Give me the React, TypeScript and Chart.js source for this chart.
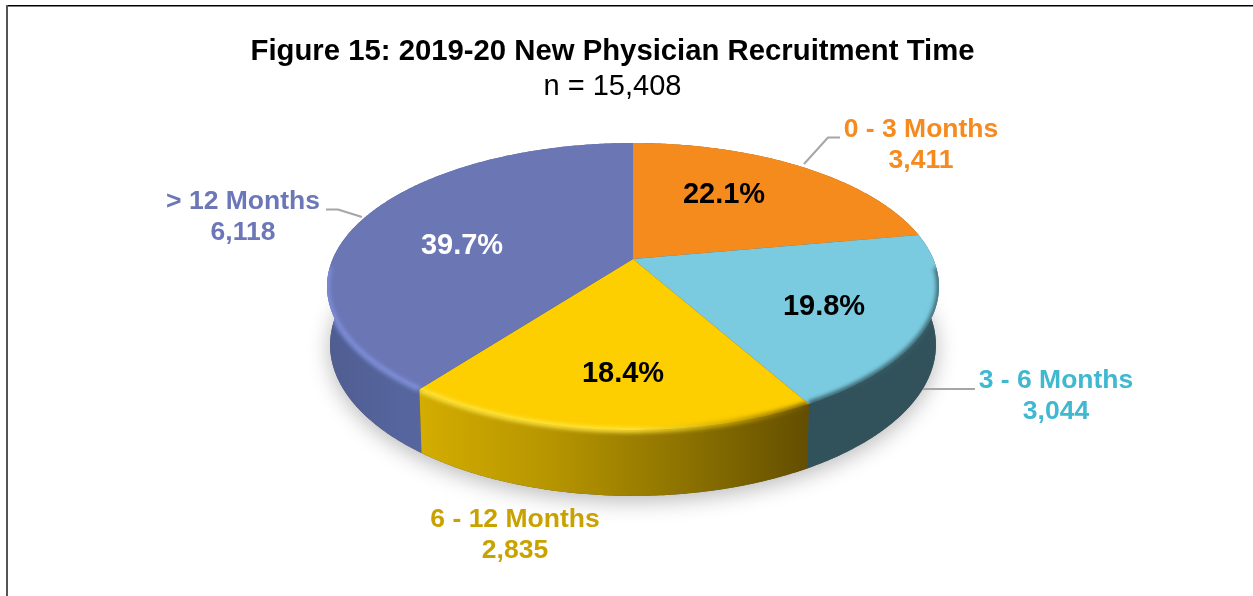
import React, { useEffect, useRef } from "react";
import { Chart, registerables } from "chart.js";

Chart.register(...registerables);

const titleText = "Figure 15: 2019-20 New Physician Recruitment Time";
const subtitleText = "n = 15,408";
const categories = ["0 - 3 Months", "3 - 6 Months", "6 - 12 Months", "> 12 Months"];
const recruits = [3411, 3044, 2835, 6118];
const sliceColors = ["#f48b1c", "#7bcbe0", "#fdce00", "#6b76b5"];
const labelColors = ["#f58a1f", "#3fb8d0", "#c9a200", "#6c77b8"];
const percentColors = ["#000000", "#000000", "#000000", "#ffffff"];

const FONT = '"Liberation Sans", Arial, sans-serif';

// view geometry of the tilted disc
const K = 0.1917;
const top = { cx: 633, cy: 259, a: 300.3, b: 138.2 };
const bottom = { cx: 633, cy: 316, a: 297.3, b: 145.4 };
const project = (g: typeof top, ang: number) => {
  const u = Math.cos(ang);
  const v = Math.sin(ang);
  const w = 1 - K * v;
  return [g.cx + (g.a * u) / w, g.cy + (g.b * v) / w];
};

const labelBoxes = [
  { x: 921, y: 130 },
  { x: 1056, y: 381 },
  { x: 515, y: 520 },
  { x: 243, y: 202 },
];
const percentBoxes = [
  { x: 724, y: 195 },
  { x: 824, y: 307 },
  { x: 623, y: 374 },
  { x: 462, y: 246 },
];
const leaders = [
  [[804, 164], [828, 137.5], [840, 137.5]],
  [[923, 389], [975, 389]],
  [],
  [[326, 209.5], [338, 209.5], [362, 217]],
];

const wallStops = [
  [[0, "#8a5a1c"], [1, "#8a5a1c"]],
  [[0, "#31525b"], [1, "#31525b"]],
  [[0, "#d4ad00"], [0.35, "#b59400"], [0.7, "#8a7000"], [1, "#634e00"]],
  [[0, "#4f5d92"], [0.25, "#56659d"], [1, "#5e6ca8"]],
];
const rimStops = [
  [[0, "#f48b1c"], [1, "#f48b1c"]],
  [[0, "#31525b"], [1, "#3a5f69"]],
  [[0, "#ffe53f"], [0.55, "#ffe53f"], [0.8, "#c9a500"], [1, "#6a5400"]],
  [[0, "#7f90dc"], [1, "#8293de"]],
];

const arcPath = (g: typeof top, from: number, to: number) => {
  const n = Math.max(2, Math.ceil(Math.abs(to - from) / 0.01));
  const pts: number[][] = [];
  for (let i = 0; i <= n; i++) pts.push(project(g, from + ((to - from) * i) / n));
  return pts;
};

const addPoly = (ctx: CanvasRenderingContext2D, pts: number[][], close = true) => {
  pts.forEach((p, i) => (i ? ctx.lineTo(p[0], p[1]) : ctx.moveTo(p[0], p[1])));
  if (close) ctx.closePath();
};
const trace = (ctx: CanvasRenderingContext2D, pts: number[][], close = true) => {
  ctx.beginPath();
  addPoly(ctx, pts, close);
};

const pie3d = {
  id: "pie3d",
  beforeDraw(chart: any) {
    const ctx: CanvasRenderingContext2D = chart.ctx;
    ctx.save();
    ctx.fillStyle = "#ffffff";
    ctx.fillRect(0, 0, chart.width, chart.height);
    ctx.fillStyle = "#000000";
    ctx.fillRect(7, 5, chart.width - 7, 1.5);
    ctx.fillStyle = "#555555";
    ctx.fillRect(6, 5, 2, chart.height - 5);
    ctx.restore();
  },
  beforeDatasetDraw(chart: any, args: any) {
    const ctx: CanvasRenderingContext2D = chart.ctx;
    const arcs = chart.getDatasetMeta(args.index).data;
    ctx.save();

    // soft ground shadow
    ctx.save();
    ctx.shadowColor = "rgba(0,0,0,0.28)";
    ctx.shadowBlur = 22;
    ctx.shadowOffsetY = 5;
    ctx.fillStyle = "#555555";
    trace(ctx, arcPath(bottom, 0, Math.PI * 2));
    ctx.fill();
    ctx.restore();

    // extruded walls
    [0, 3, 1, 2].forEach((i) => {
      const { startAngle: s, endAngle: e } = arcs[i];
      const upper = arcPath(top, s, e);
      const lower = arcPath(bottom, s, e).reverse();
      const xs = upper.map((p) => p[0]).concat(lower.map((p) => p[0]));
      const grad = ctx.createLinearGradient(Math.min(...xs), 0, Math.max(...xs), 0);
      wallStops[i].forEach(([o, c]) => grad.addColorStop(o as number, c as string));
      ctx.fillStyle = grad;
      trace(ctx, upper.concat(lower));
      ctx.fill();
    });

    // top faces
    arcs.forEach((arc: any, i: number) => {
      const pts = [[top.cx, top.cy], ...arcPath(top, arc.startAngle, arc.endAngle)];
      ctx.fillStyle = sliceColors[i];
      trace(ctx, pts);
      ctx.fill();
    });

    // bevel along the near rim, kept inside the solid's outline
    arcs.forEach((arc: any, i: number) => {
      const s = Math.max(arc.startAngle, 0.06);
      const e = Math.min(arc.endAngle, Math.PI - 0.06);
      if (e <= s) return;
      const rim = arcPath(top, s, e);
      const xs = rim.map((p) => p[0]);
      const grad = ctx.createLinearGradient(Math.min(...xs), 0, Math.max(...xs), 0);
      rimStops[i].forEach(([o, c]) => grad.addColorStop(o as number, c as string));
      ctx.save();
      ctx.beginPath();
      addPoly(ctx, [[top.cx, top.cy], ...arcPath(top, arc.startAngle, arc.endAngle)]);
      addPoly(ctx, [
        ...arcPath(top, arc.startAngle, arc.endAngle),
        ...arcPath(bottom, arc.startAngle, arc.endAngle).reverse(),
      ]);
      ctx.clip();
      ctx.filter = "blur(2px)";
      ctx.strokeStyle = grad;
      ctx.lineWidth = 5;
      trace(ctx, rim, false);
      ctx.stroke();
      ctx.restore();
    });
    ctx.restore();
    return false;
  },
  afterDatasetsDraw(chart: any) {
    const ctx: CanvasRenderingContext2D = chart.ctx;
    const total = recruits.reduce((a, b) => a + b, 0);
    ctx.save();
    ctx.textAlign = "center";
    ctx.textBaseline = "middle";
    ctx.lineJoin = "round";
    categories.forEach((name, i) => {
      if (leaders[i].length) {
        ctx.strokeStyle = "#a6a6a6";
        ctx.lineWidth = 2;
        trace(ctx, leaders[i], false);
        ctx.stroke();
      }
      ctx.fillStyle = labelColors[i];
      ctx.font = `bold 26.5px ${FONT}`;
      ctx.fillText(name, labelBoxes[i].x, labelBoxes[i].y);
      ctx.fillText(recruits[i].toLocaleString("en-US"), labelBoxes[i].x, labelBoxes[i].y + 31);
      ctx.fillStyle = percentColors[i];
      ctx.font = `bold 29px ${FONT}`;
      ctx.fillText(`${((recruits[i] / total) * 100).toFixed(1)}%`, percentBoxes[i].x, percentBoxes[i].y);
    });
    ctx.restore();
  },
};

export default function App() {
  const ref = useRef<HTMLCanvasElement>(null);
  useEffect(() => {
    const chart = new Chart(ref.current as HTMLCanvasElement, {
      type: "pie",
      data: {
        labels: categories,
        datasets: [{ data: recruits, backgroundColor: sliceColors, borderWidth: 0 }],
      },
      options: {
        animation: false,
        responsive: false,
        layout: { padding: { right: 28, top: 34 } },
        plugins: {
          legend: { display: false },
          tooltip: { enabled: false },
          title: {
            display: true,
            text: titleText,
            color: "#000000",
            font: { family: FONT, size: 29.3, weight: "bold" },
            padding: { top: 0, bottom: 0 },
          },
          subtitle: {
            display: true,
            text: subtitleText,
            color: "#000000",
            font: { family: FONT, size: 29, weight: "normal" },
            padding: { top: 0, bottom: 0 },
          },
        },
      },
      plugins: [pie3d],
    } as any);
    return () => chart.destroy();
  }, []);
  return (
    <div style={{ position: "absolute", left: 0, top: 0, width: 1253, height: 596, overflow: "hidden" }}>
      <canvas ref={ref} width={1253} height={596} style={{ display: "block" }} />
    </div>
  );
}
